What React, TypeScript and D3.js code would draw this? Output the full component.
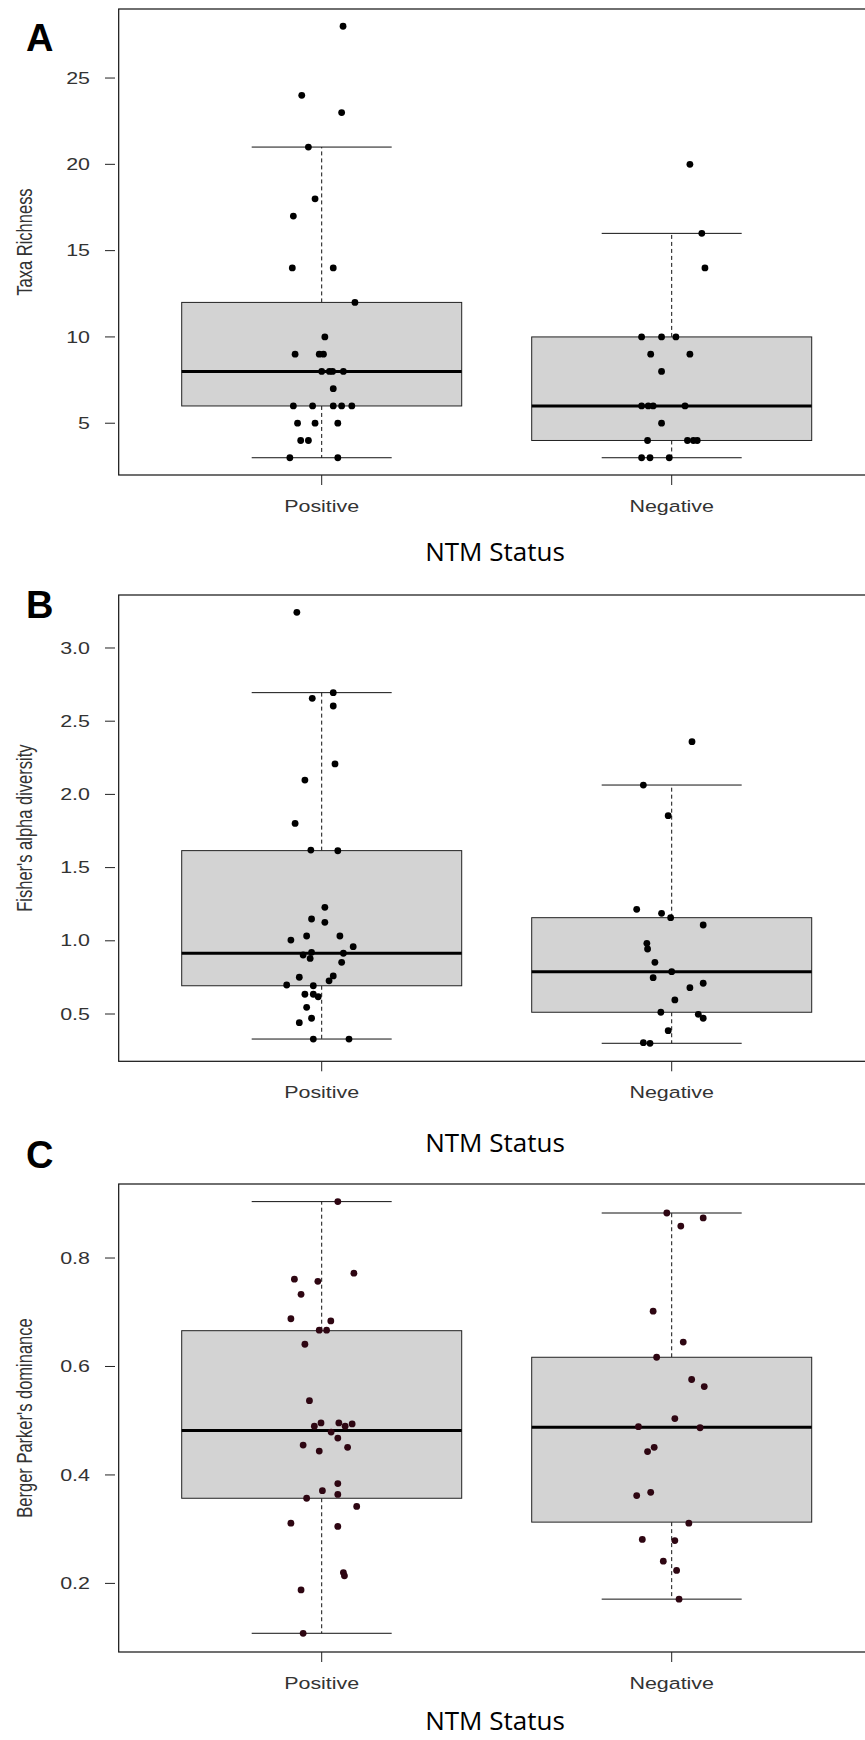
import React from "react";
import * as d3 from "d3";

// ---------- data ----------
const categories = ["Positive", "Negative"];

// Panel A: Taxa Richness
const richPosValues = [28, 24, 23, 21, 18, 17, 14, 14, 12, 10, 9, 9, 9, 8, 8, 8, 8, 7, 6, 6, 6, 6, 6, 5, 5, 5, 4, 4, 3, 3];
const richPosJitter = [0.061, -0.057, 0.057, -0.038, -0.019, -0.081, -0.084, 0.033, 0.095, 0.009, -0.076, -0.007, 0.005, 0, 0.022, 0.031, 0.062, 0.033, -0.081, -0.026, 0.033, 0.057, 0.086, -0.069, -0.019, 0.046, -0.06, -0.038, -0.091, 0.046];
const richNegValues = [20, 16, 14, 10, 10, 10, 9, 9, 8, 6, 6, 6, 6, 5, 4, 4, 4, 4, 3, 3, 3];
const richNegJitter = [0.052, 0.086, 0.095, -0.086, -0.029, 0.012, -0.06, 0.052, -0.029, -0.086, -0.067, -0.053, 0.038, -0.029, -0.069, 0.045, 0.062, 0.073, -0.086, -0.062, -0.007];
const richPosBox = [3, 6, 8, 12, 21];
const richNegBox = [3, 4, 6, 10, 16];
const richTicks = [5, 10, 15, 20, 25];

// Panel B: Fisher's alpha
const fisherPosValues = [3.244, 2.695, 2.656, 2.604, 2.208, 2.098, 1.802, 1.62, 1.615, 1.229, 1.149, 1.126, 1.005, 1.033, 1.033, 0.96, 0.903, 0.921, 0.88, 0.915, 0.853, 0.751, 0.76, 0.727, 0.698, 0.693, 0.635, 0.635, 0.618, 0.546, 0.471, 0.441, 0.329, 0.329];
const fisherPosJitter = [-0.071, 0.033, -0.027, 0.033, 0.038, -0.048, -0.076, -0.031, 0.046, 0.009, -0.029, 0.009, -0.088, -0.043, 0.052, 0.09, -0.053, -0.029, -0.033, 0.062, 0.057, -0.064, 0.033, 0.021, -0.1, -0.024, -0.048, -0.024, -0.01, -0.043, -0.029, -0.064, -0.024, 0.078];
const fisherNegValues = [2.36, 2.064, 1.855, 1.215, 1.188, 1.158, 1.108, 0.983, 0.944, 0.853, 0.789, 0.748, 0.71, 0.68, 0.596, 0.512, 0.498, 0.471, 0.386, 0.304, 0.3];
const fisherNegJitter = [0.058, -0.081, -0.01, -0.1, -0.029, -0.003, 0.09, -0.071, -0.069, -0.048, 0, -0.053, 0.09, 0.052, 0.009, -0.031, 0.076, 0.09, -0.01, -0.081, -0.062];
const fisherPosBox = [0.329, 0.693, 0.915, 1.616, 2.695];
const fisherNegBox = [0.3, 0.512, 0.789, 1.158, 2.064];
const fisherTicks = [0.5, 1.0, 1.5, 2.0, 2.5, 3.0];

// Panel C: Berger Parker's dominance
const bergerPosValues = [0.904, 0.772, 0.761, 0.757, 0.733, 0.688, 0.684, 0.667, 0.667, 0.641, 0.537, 0.49, 0.496, 0.496, 0.49, 0.494, 0.479, 0.468, 0.455, 0.444, 0.451, 0.384, 0.371, 0.364, 0.357, 0.342, 0.311, 0.305, 0.22, 0.214, 0.188, 0.108];
const bergerPosJitter = [0.046, 0.092, -0.078, -0.011, -0.059, -0.088, 0.026, -0.007, 0.014, -0.048, -0.035, -0.021, -0.002, 0.049, 0.067, 0.087, 0.027, 0.046, -0.053, -0.007, 0.074, 0.046, 0.002, 0.046, -0.043, 0.1, -0.088, 0.046, 0.062, 0.065, -0.059, -0.053];
const bergerNegValues = [0.883, 0.874, 0.859, 0.702, 0.645, 0.617, 0.576, 0.563, 0.504, 0.489, 0.487, 0.451, 0.443, 0.368, 0.362, 0.311, 0.281, 0.279, 0.241, 0.224, 0.171];
const bergerNegJitter = [-0.014, 0.09, 0.026, -0.053, 0.033, -0.043, 0.057, 0.093, 0.009, -0.095, 0.081, -0.05, -0.069, -0.06, -0.1, 0.049, -0.084, 0.009, -0.024, 0.014, 0.021];
const bergerPosBox = [0.108, 0.357, 0.482, 0.666, 0.904];
const bergerNegBox = [0.171, 0.313, 0.488, 0.617, 0.883];
const bergerTicks = [0.2, 0.4, 0.6, 0.8];

// ---------- layout ----------
const W = 865;
const H = 1740;
const FONT = "'Liberation Sans', Arial, sans-serif";
const STRETCH = 1.3;

type PanelProps = {
  letter: string;
  letterY: number;
  top: number;
  bottom: number;
  domain: [number, number];
  ticks: number[];
  tickFmt: (v: number) => string;
  yLabel: string;
  titleY: number;
  posValues: number[];
  posJitter: number[];
  negValues: number[];
  negJitter: number[];
  posBox: number[];
  negBox: number[];
  pointColor: string;
};

const x = d3.scaleLinear().domain([0.42, 2.58]).range([118.7, 874.7]);

function Panel(p: PanelProps) {
  const y = d3.scaleLinear().domain(p.domain).range([p.bottom, p.top]);
  const left = x.range()[0];
  const right = x.range()[1];
  const boxHalf = x(1.4) - x(1);
  const capHalf = boxHalf / 2;
  const groups = [
    { vals: p.posValues, jit: p.posJitter, box: p.posBox, c: 1 },
    { vals: p.negValues, jit: p.negJitter, box: p.negBox, c: 2 },
  ];
  const fs = 16.5;
  return (
    <g>
      <text x={26} y={p.letterY} fontFamily={FONT} fontWeight="bold" fontSize={38} fill="#000">
        {p.letter}
      </text>
      {groups.map((g, gi) => {
        const cx = x(g.c);
        const [lo, q1, med, q3, hi] = g.box;
        return (
          <g key={gi}>
            <line x1={cx} x2={cx} y1={y(q3)} y2={y(hi)} stroke="#111" strokeWidth={1} strokeDasharray="4,3" />
            <line x1={cx} x2={cx} y1={y(q1)} y2={y(lo)} stroke="#111" strokeWidth={1} strokeDasharray="4,3" />
            <line x1={cx - capHalf} x2={cx + capHalf} y1={y(hi)} y2={y(hi)} stroke="#111" strokeWidth={1} />
            <line x1={cx - capHalf} x2={cx + capHalf} y1={y(lo)} y2={y(lo)} stroke="#111" strokeWidth={1} />
            <rect x={cx - boxHalf} y={y(q3)} width={2 * boxHalf} height={y(q1) - y(q3)} fill="#d3d3d3" stroke="#222" strokeWidth={1} />
            <line x1={cx - boxHalf} x2={cx + boxHalf} y1={y(med)} y2={y(med)} stroke="#000" strokeWidth={3} />
          </g>
        );
      })}
      {groups.map((g, gi) =>
        g.vals.map((v, i) => (
          <circle key={`${gi}-${i}`} cx={x(g.c + g.jit[i])} cy={y(v)} r={3.4} fill={p.pointColor} />
        ))
      )}
      <rect x={left} y={p.top} width={right - left} height={p.bottom - p.top} fill="none" stroke="#111" strokeWidth={1.2} />
      {p.ticks.map((t) => (
        <g key={t}>
          <line x1={105} x2={115} y1={y(t)} y2={y(t)} stroke="#222" strokeWidth={1} />
          <text
            transform={`translate(90,${y(t)}) scale(${STRETCH},1)`}
            textAnchor="end"
            dominantBaseline="central"
            fontFamily={FONT}
            fontSize={fs}
            fill="#333"
          >
            {p.tickFmt(t)}
          </text>
        </g>
      ))}
      <text
        transform={`translate(25,${(p.top + p.bottom) / 2}) rotate(-90) scale(1,${STRETCH})`}
        textAnchor="middle"
        dominantBaseline="central"
        fontFamily={FONT}
        fontSize={fs}
        fill="#333"
      >
        {p.yLabel}
      </text>
      {categories.map((c, i) => (
        <g key={c}>
          <line x1={x(i + 1)} x2={x(i + 1)} y1={p.bottom} y2={p.bottom + 10} stroke="#222" strokeWidth={1} />
          <text
            transform={`translate(${x(i + 1)},${p.bottom + 31}) scale(${STRETCH},1)`}
            textAnchor="middle"
            dominantBaseline="central"
            fontFamily={FONT}
            fontSize={fs}
            fill="#333"
          >
            {c}
          </text>
        </g>
      ))}
      <text x={495} y={p.titleY + 9} textAnchor="middle" fontFamily="'Open Sans', sans-serif" fontSize={26} fill="#000">
        NTM Status
      </text>
    </g>
  );
}

export default function App() {
  return (
    <svg width={W} height={H} style={{ position: "absolute", left: 0, top: 0, background: "#fff" }}>
      <rect x={0} y={0} width={W} height={H} fill="#fff" />
      <Panel
        letter="A"
        letterY={51}
        top={9}
        bottom={475}
        domain={[2, 29]}
        ticks={richTicks}
        tickFmt={(v) => String(v)}
        yLabel="Taxa Richness"
        titleY={552}
        posValues={richPosValues}
        posJitter={richPosJitter}
        negValues={richNegValues}
        negJitter={richNegJitter}
        posBox={richPosBox}
        negBox={richNegBox}
        pointColor="#000"
      />
      <Panel
        letter="B"
        letterY={618}
        top={595}
        bottom={1061.3}
        domain={[0.177, 3.362]}
        ticks={fisherTicks}
        tickFmt={(v) => v.toFixed(1)}
        yLabel="Fisher's alpha diversity"
        titleY={1143}
        posValues={fisherPosValues}
        posJitter={fisherPosJitter}
        negValues={fisherNegValues}
        negJitter={fisherNegJitter}
        posBox={fisherPosBox}
        negBox={fisherNegBox}
        pointColor="#000"
      />
      <Panel
        letter="C"
        letterY={1168}
        top={1184}
        bottom={1652}
        domain={[0.0735, 0.9365]}
        ticks={bergerTicks}
        tickFmt={(v) => v.toFixed(1)}
        yLabel="Berger Parker's dominance"
        titleY={1721}
        posValues={bergerPosValues}
        posJitter={bergerPosJitter}
        negValues={bergerNegValues}
        negJitter={bergerNegJitter}
        posBox={bergerPosBox}
        negBox={bergerNegBox}
        pointColor="#2e0612"
      />
    </svg>
  );
}
